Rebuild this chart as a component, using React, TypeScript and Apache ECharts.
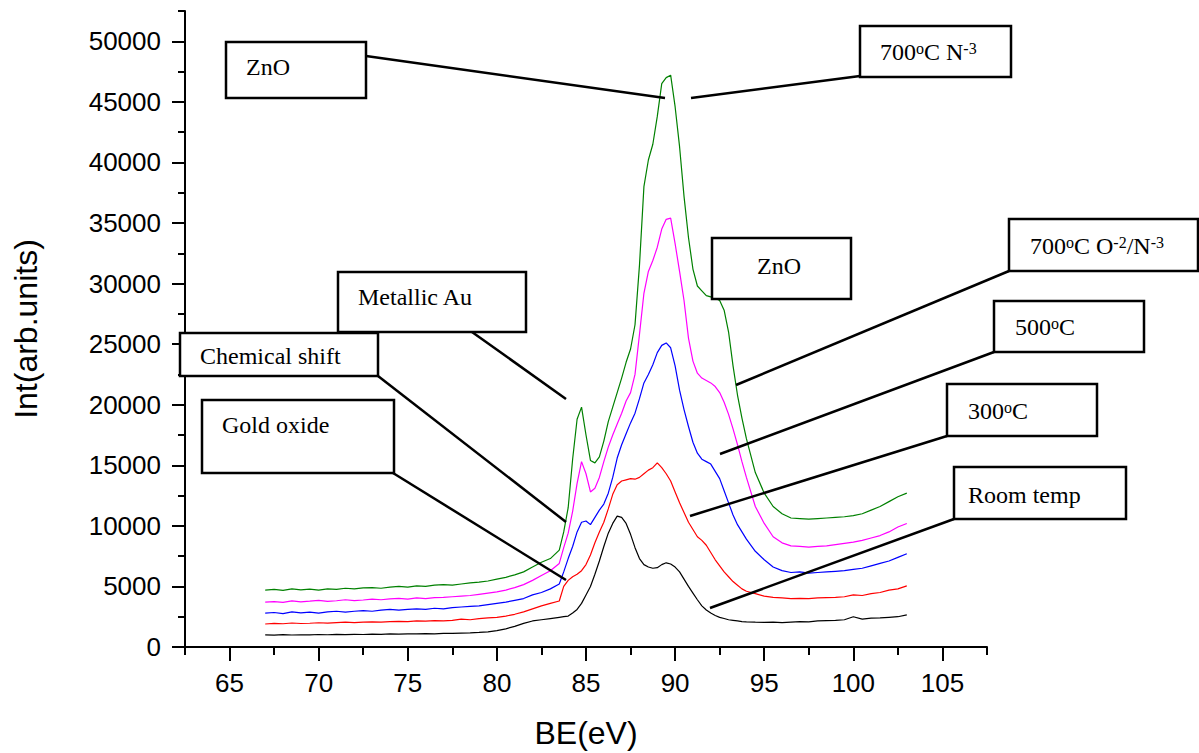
import React, { useEffect, useRef } from 'react';
import * as echarts from 'echarts';

// Binding energy grid (eV)
const be = [
  67, 67.5, 68, 68.5, 69, 69.5, 70, 70.5, 71, 71.5, 72, 72.5, 73, 73.5, 74, 74.5, 75, 75.5, 76, 76.5,
  77, 77.5, 78, 78.5, 79, 79.5, 80, 80.5, 81, 81.5, 82, 82.5, 83, 83.5,
  83.75, 84, 84.25, 84.5, 84.75, 85, 85.25, 85.5, 85.75, 86, 86.25, 86.5, 86.75, 87, 87.25, 87.5,
  87.75, 88, 88.25, 88.5, 88.75, 89, 89.25, 89.5, 89.75, 90, 90.25, 90.5, 90.75, 91, 91.25, 91.5,
  91.75, 92, 92.25, 92.5, 92.75, 93, 93.25, 93.5, 93.75, 94,
  94.5, 95, 95.5, 96, 96.5, 97, 97.5, 98, 98.5, 99, 99.5, 100, 100.5, 101, 101.5, 102, 102.5, 103,
];

const roomTemp = [
  1000, 980, 1020, 990, 1010, 1000, 1030, 1010, 1040, 1020, 1050, 1030, 1060, 1050, 1080, 1060, 1090, 1080, 1100, 1090,
  1120, 1130, 1150, 1160, 1200, 1250, 1350, 1500, 1700, 1950, 2150, 2250, 2350, 2450,
  2500, 2550, 2800, 3100, 3600, 4300, 5000, 6000, 7100, 8300, 9400, 10200, 10800, 10700, 10200, 9300,
  8200, 7300, 6800, 6600, 6500, 6550, 6800, 6950, 6850, 6600, 6200, 5600, 5000, 4450, 3900, 3400,
  3050, 2800, 2600, 2450, 2350, 2250, 2200, 2150, 2100, 2080,
  2050, 2030, 2050, 2020, 2060, 2100, 2080, 2150, 2180, 2200, 2250, 2500, 2300, 2380, 2400, 2450, 2500, 2650,
];

const t300 = [
  1900, 1950, 1920, 1980, 1940, 1960, 2000, 1970, 2020, 2050, 2010, 2060, 2080, 2050, 2100, 2120, 2090, 2150, 2130, 2180,
  2150, 2200, 2300, 2250, 2350, 2400, 2450, 2550, 2700, 2900, 3150, 3400, 3600, 3800,
  5000, 5500, 5800, 6000, 6300, 6800, 7600, 8600, 9500, 10300, 11400, 12600, 13400, 13700, 13800, 13900,
  13850, 14000, 14300, 14600, 14800, 15200, 14800, 14300, 13700, 12800, 11900, 11100, 10300, 9700, 9100, 8800,
  8400, 7800, 7200, 6700, 6200, 5800, 5400, 5100, 4800, 4600,
  4400, 4200, 4100, 4050, 4000, 4020, 4000, 4050, 4080, 4100, 4150, 4300, 4250, 4400, 4500, 4700, 4800, 5050,
];

const t500 = [
  2800, 2850, 2750, 2900, 2820, 2880, 2800, 2900, 2950, 2880, 2950, 3000, 2950, 3050, 3100, 3050, 3100, 3150, 3100, 3200,
  3150, 3250, 3300, 3350, 3400, 3500, 3600, 3700, 3850, 4000, 4300, 4500, 4800, 5200,
  6200, 7300, 8300, 9500, 10300, 10400, 10100, 10700, 11300, 11800, 12700, 14000, 15600, 16700, 17600, 18500,
  19300, 20500, 21800, 22500, 23300, 24300, 24900, 25100, 24700, 23200, 21200, 19600, 18200, 16900, 16000, 15500,
  15300, 15100, 14500, 13900, 12900, 11900, 10900, 10100, 9500, 8900,
  7900, 7200, 6600, 6300, 6150, 6200, 6100, 6150, 6200, 6250, 6300, 6400, 6500, 6700, 6900, 7100, 7400, 7700,
];

const t700ON = [
  3700, 3750, 3680, 3800, 3720, 3780, 3850, 3760, 3820, 3900, 3830, 3880, 3950, 3900, 3980, 4020, 3950, 4050, 4000, 4080,
  4100, 4150, 4200, 4250, 4350, 4450, 4550, 4700, 4900, 5150, 5500, 5900, 6300, 6900,
  8200, 9400, 11200, 13500, 15300, 14300, 12800, 13100, 14000, 15300, 16500, 17500, 18400, 19300, 20300, 21000,
  22500, 25800, 29200, 31000, 31900, 33000, 34500, 35300, 35400, 33300, 31000, 28600, 25500, 23600, 22600, 22200,
  22000, 21800, 21500, 21000, 20200, 19200, 18000, 16700, 15300, 14000,
  11600, 10200, 9100, 8600, 8350, 8300, 8250, 8300, 8350, 8450, 8550, 8650, 8800, 9000, 9200, 9500, 9900, 10200,
];

const t700N = [
  4700, 4750, 4680, 4800, 4720, 4780, 4700, 4800, 4760, 4850, 4800, 4880, 4900, 4850, 4950, 5000, 4950, 5050, 5000, 5100,
  5150, 5100, 5200, 5300, 5350, 5450, 5600, 5750, 5950, 6200, 6600, 7000, 7300, 8000,
  9500, 11500, 15500, 18800, 19800, 17500, 15400, 15200, 15700, 17000, 18600, 19800, 21000, 22200, 23500, 24600,
  26600, 31500, 38000, 40200, 41500, 43800, 46500, 47000, 47200, 44600, 41300, 37200, 33800, 31200, 29800, 29400,
  29000, 28900, 28800, 28600, 27800, 26000, 23200, 20800, 18900, 17200,
  14400, 12700, 11600, 11000, 10650, 10600, 10550, 10600, 10650, 10700, 10750, 10850, 11000, 11300, 11600, 12000, 12400, 12700,
];

const xMajorTicks = [65, 70, 75, 80, 85, 90, 95, 100, 105];
const xMinorTicks = [62.5, 67.5, 72.5, 77.5, 82.5, 87.5, 92.5, 97.5, 102.5, 107.5];
const yMajorTicks = [0, 5000, 10000, 15000, 20000, 25000, 30000, 35000, 40000, 45000, 50000];
const yMinorTicks = [2500, 7500, 12500, 17500, 22500, 27500, 32500, 37500, 42500, 47500, 52500];

const seriesDefs = [
  { name: 'Room temp', values: roomTemp, color: '#000000' },
  { name: '300C', values: t300, color: '#ff0000' },
  { name: '500C', values: t500, color: '#0000ff' },
  { name: '700C O/N', values: t700ON, color: '#ff00ff' },
  { name: '700C N', values: t700N, color: '#008000' },
];

const SERIF = '"Liberation Serif", "Times New Roman", serif';
const SANS = '"Liberation Sans", Arial, sans-serif';

const rich = {
  n: { fontSize: 24, fontFamily: SERIF, fill: '#000', color: '#000' },
  s: { fontSize: 16, fontFamily: SERIF, fill: '#000', color: '#000', verticalAlign: 'top' },
};

function box(x: number, y: number, w: number, h: number, text: string, tx: number, ty: number) {
  return {
    type: 'group',
    z: 100,
    children: [
      { type: 'rect', z: 100, shape: { x, y, width: w, height: h }, style: { fill: '#ffffff', stroke: '#000000', lineWidth: 2.5 } },
      { type: 'text', z: 101, x: tx, y: ty, style: { text, rich, font: '24px ' + SERIF, fill: '#000', verticalAlign: 'middle', align: 'left' } },
    ],
  };
}

function leader(x1: number, y1: number, x2: number, y2: number) {
  return { type: 'line', z: 99, shape: { x1, y1, x2, y2 }, style: { stroke: '#000000', lineWidth: 2.5 } };
}

export default function App() {
  const ref = useRef<HTMLDivElement>(null);
  useEffect(() => {
    if (!ref.current) return;
    const chart = echarts.init(ref.current, undefined, { renderer: 'svg' });
    const axisCommon = {
      type: 'value',
      splitLine: { show: false },
    };
    const plain = (v: number) => String(v);
    chart.setOption({
      animation: false,
      backgroundColor: '#ffffff',
      grid: { left: 185, right: 212, top: 11, bottom: 106, containLabel: false, outerBoundsMode: 'none' },
      xAxis: [
        {
          ...axisCommon,
          min: 62.5,
          max: 107.5,
          position: 'bottom',
          name: 'BE(eV)',
          nameLocation: 'middle',
          nameGap: 70,
          nameTextStyle: { fontFamily: SANS, fontSize: 32, color: '#000' },
          axisLine: { show: true, onZero: false, lineStyle: { color: '#000', width: 2 } },
          axisTick: { show: true, inside: false, length: 14, customValues: xMajorTicks, lineStyle: { color: '#000', width: 2 } },
          axisLabel: { show: true, customValues: xMajorTicks, formatter: plain, margin: 23, fontFamily: SANS, fontSize: 26, color: '#000' },
        },
        {
          ...axisCommon,
          min: 62.5,
          max: 107.5,
          position: 'bottom',
          axisLine: { show: false, onZero: false },
          axisTick: { show: true, inside: false, length: 8, customValues: xMinorTicks, lineStyle: { color: '#000', width: 2 } },
          axisLabel: { show: false },
        },
      ],
      yAxis: [
        {
          ...axisCommon,
          min: 0,
          max: 52500,
          position: 'left',
          name: 'Int(arb.units)',
          nameLocation: 'middle',
          nameGap: 143,
          nameRotate: 90,
          nameTextStyle: { fontFamily: SANS, fontSize: 32, color: '#000' },
          axisLine: { show: true, onZero: false, lineStyle: { color: '#000', width: 2 } },
          axisTick: { show: true, inside: false, length: 13, customValues: yMajorTicks, lineStyle: { color: '#000', width: 2 } },
          axisLabel: { show: true, customValues: yMajorTicks, formatter: plain, margin: 24, fontFamily: SANS, fontSize: 26, color: '#000' },
        },
        {
          ...axisCommon,
          min: 0,
          max: 52500,
          position: 'left',
          axisLine: { show: false, onZero: false },
          axisTick: { show: true, inside: false, length: 7, customValues: yMinorTicks, lineStyle: { color: '#000', width: 2 } },
          axisLabel: { show: false },
        },
      ],
      series: seriesDefs.map((s) => ({
        name: s.name,
        type: 'line',
        xAxisIndex: 0,
        yAxisIndex: 0,
        data: be.map((x, i) => [x, s.values[i]]),
        showSymbol: false,
        symbol: 'none',
        lineStyle: { color: s.color, width: 1.2 },
        itemStyle: { color: s.color },
        z: 2,
      })),
      graphic: [
        leader(366, 56, 665, 98),
        leader(691, 98, 860, 76),
        leader(736, 385, 1009, 271),
        leader(720, 454, 994, 352),
        leader(690, 516, 947, 436),
        leader(710, 608, 954, 519),
        leader(472, 332, 566, 399),
        leader(378, 376, 566, 522),
        leader(393, 473, 566, 580),
        box(226, 42, 140, 56, '{n|ZnO}', 246, 67),
        box(860, 26, 151, 51, '{n|700}{s|o}{n|C N}{s|-3}', 880, 52),
        box(712, 238, 139, 61, '{n|ZnO}', 757, 266),
        box(1009, 219, 189, 52, '{n|700}{s|o}{n|C O}{s|-2}{n|/N}{s|-3}', 1030, 246),
        box(994, 301, 150, 51, '{n|500}{s|o}{n|C}', 1015, 327),
        box(947, 384, 150, 52, '{n|300}{s|o}{n|C}', 968, 411),
        box(954, 467, 172, 52, '{n|Room temp}', 968, 495),
        box(338, 272, 188, 60, '{n|Metallic Au}', 358, 297),
        box(202, 400, 192, 73, '{n|Gold oxide}', 222, 425),
        box(180, 333, 198, 43, '{n|Chemical shift}', 200, 356),
      ],
    });
    return () => chart.dispose();
  }, []);
  return <div ref={ref} style={{ position: 'fixed', left: 0, top: 0, width: 1199, height: 753, background: '#fff' }} />;
}
